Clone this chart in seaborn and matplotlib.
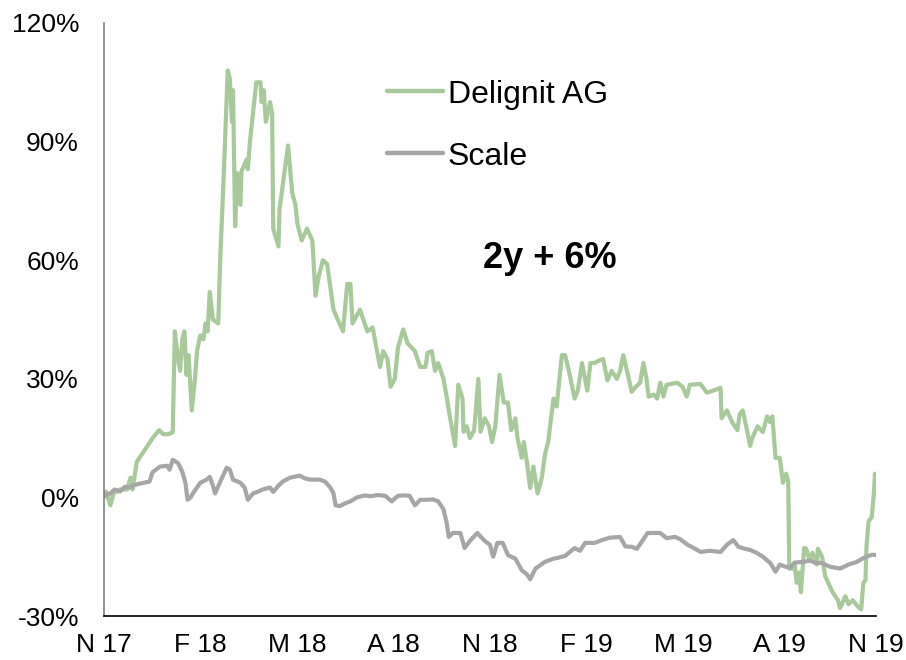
import numpy as np
import pandas as pd
import matplotlib
matplotlib.use("Agg")
import matplotlib.pyplot as plt
import seaborn as sns

# Performance since Nov 2017, in percent; x = days since start (2 years = 730 days)
delignit_day = [0, 2, 6, 9, 15, 22, 25, 27, 31, 36, 41, 46, 52, 56, 61, 65, 67, 70, 72, 74,
                76, 78, 80, 83, 86, 88, 91, 94, 96, 98, 100, 103, 108, 110, 113, 117, 119, 121, 122, 124,
                126, 129, 130, 135, 136, 138, 144, 148, 149, 151, 153, 157, 159, 160, 165, 166, 169, 174, 178, 181,
                183, 187, 192, 197, 200, 203, 207, 211, 217, 221, 226, 230, 233, 235, 242, 249, 254, 261, 264, 268,
                271, 275, 278, 283, 287, 294, 299, 304, 306, 310, 313, 316, 321, 324, 327, 332, 335, 339, 340, 343,
                346, 350, 354, 356, 360, 364, 367, 370, 374, 378, 382, 385, 389, 391, 395, 397, 400, 403, 406, 410,
                414, 417, 420, 425, 428, 433, 436, 440, 445, 448, 452, 457, 460, 464, 467, 472, 476, 480, 485, 488,
                491, 495, 499, 503, 507, 510, 513, 515, 520, 523, 526, 529, 532, 542, 547, 551, 554, 564, 570, 576,
                583, 584, 589, 594, 599, 601, 604, 608, 611, 613, 618, 623, 627, 630, 632, 635, 639, 642, 645, 647,
                648, 651, 653, 655, 657, 659, 662, 664, 667, 670, 674, 675, 679, 682, 689, 694, 696, 701, 704, 708,
                713, 716, 718, 720, 721, 723, 726, 728, 729, 730]
delignit_pct = [0, 1.5, -2, 1, 2, 2, 5, 2, 9, 11, 13, 15, 17, 16, 16, 16.5, 42, 35, 32, 40,
                42, 31, 36, 22, 30, 37, 41, 40, 44, 42, 52, 45, 44, 61, 80, 108, 106, 95, 103, 68.6,
                82, 74, 82.5, 85.5, 83, 90, 105, 105, 100, 103, 95, 100, 97, 68, 63.5, 73, 79, 89, 77, 74,
                69, 65, 68, 65, 51, 56, 60, 59, 47.5, 45, 42, 54, 54, 44, 47.5, 42, 43, 33, 37, 35,
                28, 30, 38, 42.5, 39, 37, 33, 33, 36.6, 37, 32, 34, 30, 25.5, 20.5, 13, 28.5, 25, 16.6, 18,
                15, 17, 30, 16.6, 20, 18, 14, 18, 31, 24, 24, 17, 20, 15, 10, 14, 8.7, 2.4, 7.8, 1,
                5, 11, 14, 25, 23, 36, 36, 31.5, 25, 27, 34, 27, 34, 34, 34.5, 35, 29.6, 32, 30, 32,
                36, 31.5, 26.7, 28, 29, 34, 30, 25.5, 26, 25, 29, 25.5, 28.5, 29, 28, 25.5, 28.5, 28.7, 26.5, 27,
                27.7, 20, 22, 19, 17, 21, 22, 17, 13, 15, 18, 16.5, 20.5, 19, 20.5, 10, 10, 3.7, 6, 4,
                -18, -18, -17, -21.6, -19, -24, -12.8, -13, -15.8, -14, -17, -13, -15, -20, -24, -26, -28, -25, -27, -26,
                -27.7, -28.3, -21.6, -21, -12.5, -6, -5, 1, 6, 2]

scale_day = [0, 6, 10, 15, 20, 25, 27, 34, 43, 46, 53, 60, 62, 65, 70, 74, 77, 79, 82, 84,
             91, 97, 100, 103, 105, 110, 116, 119, 122, 129, 133, 136, 141, 146, 150, 157, 160, 165, 169, 176,
             185, 190, 195, 204, 209, 214, 217, 219, 223, 228, 233, 239, 247, 252, 259, 266, 272, 278, 285, 289,
             294, 299, 305, 311, 316, 321, 324, 326, 330, 337, 341, 346, 353, 360, 365, 368, 372, 377, 382, 389,
             395, 400, 403, 408, 417, 425, 429, 436, 445, 450, 455, 464, 472, 478, 488, 493, 499, 504, 509, 514,
             526, 532, 540, 545, 552, 559, 564, 573, 583, 589, 595, 600, 606, 611, 617, 623, 630, 635, 639, 644,
             649, 653, 661, 668, 672, 679, 686, 696, 704, 712, 717, 721, 726, 730]
scale_pct = [0.5, 1, 2, 1.5, 2.7, 2.5, 3, 3.5, 4, 6.4, 7.8, 8, 7, 9.5, 8.7, 6.5, 3.7, -0.6, 0, 1,
             3.7, 4.5, 5.2, 3, 1, 4, 7.5, 7, 4.5, 3.7, 2.5, -0.6, 1, 1.5, 2, 2.5, 1.4, 3, 4, 5,
             5.5, 4.8, 4.5, 4.5, 4, 2.5, 1, -2, -2.2, -1.5, -1, 0, 0.5, 0.3, 0.6, 0.4, -1, 0.4, 0.5, 0.4,
             -2, -0.6, -0.6, -0.5, -1, -3, -6.4, -10, -9, -9, -12.8, -11, -9, -11, -12, -15, -11.5, -11.5, -14.6, -15.5,
             -18.4, -19.5, -20.7, -18, -16.3, -15.5, -15.3, -14.8, -12.8, -13.5, -11.5, -11.5, -10.7, -10.2, -10, -12.4, -12.5, -13, -11, -9,
             -9, -10.3, -10, -10.6, -12, -13, -13.8, -13.5, -13.8, -12, -10.8, -12.5, -13, -13.3, -14, -15, -16.6, -18.8, -17, -17.5,
             -17.8, -16.5, -16.3, -16, -16.5, -16.6, -17.5, -18, -17, -16.3, -15.5, -15, -14.5, -14.6]

series_names = ["Delignit AG", "Scale"]
series_colors = ["#a8ca9b", "#a6a6a6"]
x_labels = ["N 17", "F 18", "M 18", "A 18", "N 18", "F 19", "M 19", "A 19", "N 19"]
y_ticks = [-30, 0, 30, 60, 90, 120]
headline = "2y + 6%"

df = pd.concat([
    pd.DataFrame({"day": delignit_day, "pct": delignit_pct, "series": series_names[0]}),
    pd.DataFrame({"day": scale_day, "pct": scale_pct, "series": series_names[1]}),
], ignore_index=True)

sns.set_style("white")
plt.rcParams["font.family"] = ["Liberation Sans", "DejaVu Sans"]
plt.rcParams["text.color"] = "black"

fig = plt.figure(figsize=(9.06, 6.60), dpi=100)
ax = fig.add_axes([104 / 906, 1 - 616 / 660, 772 / 906, 593 / 660])

sns.lineplot(data=df, x="day", y="pct", hue="series", hue_order=series_names,
             palette=series_colors, estimator=None, linewidth=3.0, ax=ax)

ax.set_xlim(0, 730)
ax.set_ylim(-30, 120)
ax.set_xticks(np.linspace(0, 730, len(x_labels)))
ax.set_xticklabels(x_labels)
ax.set_yticks(y_ticks)
ax.set_yticklabels([f"{v}%" for v in y_ticks])
ax.tick_params(axis="both", length=0, labelsize=19, colors="black")
ax.tick_params(axis="y", pad=18)
ax.tick_params(axis="x", pad=12)
ax.set_xlabel("")
ax.set_ylabel("")

for side in ["top", "right"]:
    ax.spines[side].set_visible(False)
ax.spines["left"].set_color("#7f7f7f")
ax.spines["left"].set_linewidth(1.2)
ax.spines["bottom"].set_color("black")
ax.spines["bottom"].set_linewidth(1.2)

handles, labels = ax.get_legend_handles_labels()
leg = ax.legend(handles, labels, loc="center left", bbox_to_anchor=(0.3666, 0.827),
                frameon=False, fontsize=23, handlelength=1.75, handletextpad=0.15,
                labelspacing=1.0, borderpad=0, borderaxespad=0)
for line in leg.get_lines():
    line.set_linewidth(3.2)

ax.text(0.578, 0.587, headline, transform=ax.transAxes, ha="center", va="baseline",
        fontsize=26, fontweight="bold")

fig.savefig("out.png", dpi=100, facecolor="white")
